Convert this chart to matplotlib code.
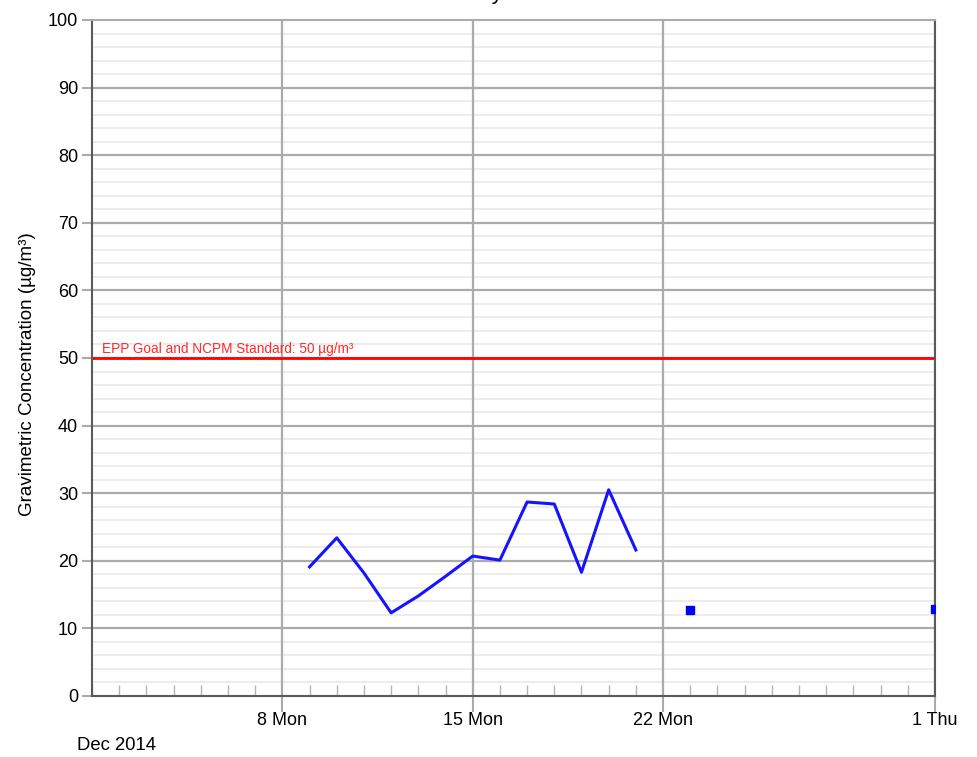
import datetime as dt
import numpy as np
import matplotlib
matplotlib.use("Agg")
import matplotlib.pyplot as plt
import matplotlib.dates as mdates
from matplotlib.ticker import MultipleLocator, FixedLocator

plt.rcParams['font.family'] = ['Liberation Sans', 'DejaVu Sans']

title = "Hornsby Street"
ylabel = "Gravimetric Concentration (µg/m³)"
standard_label = "EPP Goal and NCPM Standard: 50 µg/m³"
standard_value = 50

dates = ["2014-12-09", "2014-12-10", "2014-12-11", "2014-12-12", "2014-12-13",
         "2014-12-14", "2014-12-15", "2014-12-16", "2014-12-17", "2014-12-18",
         "2014-12-19", "2014-12-20", "2014-12-21", "2014-12-22", "2014-12-23",
         "2014-12-24", "2015-01-01"]
values = [19.1, 23.4, 18.2, 12.3, 14.8, 17.7, 20.7, 20.1, 28.7, 28.4,
          18.3, 30.5, 21.6, np.nan, 12.7, np.nan, 12.9]

xtick_dates = ["2014-12-08", "2014-12-15", "2014-12-22", "2015-01-01"]
xtick_labels = ["8 Mon", "15 Mon", "22 Mon", "1 Thu"]

x = [dt.datetime.strptime(d, "%Y-%m-%d") for d in dates]
y = np.array(values, dtype=float)

fig = plt.figure(figsize=(9.77, 7.57), dpi=100)
ax = fig.add_axes([92/977, 1-696/757, (935-92)/977, (696-20)/757])

xmin = dt.datetime(2014, 12, 1)
xmax = dt.datetime(2015, 1, 1)
ax.set_xlim(xmin, xmax)
ax.set_ylim(0, 100)

major_col = '#ababab'
minor_col = '#ebebeb'

ax.yaxis.set_major_locator(MultipleLocator(10))
ax.yaxis.set_minor_locator(MultipleLocator(2))
ax.grid(True, which='minor', axis='y', color=minor_col, lw=1.3)

xt = [mdates.date2num(dt.datetime.strptime(d, "%Y-%m-%d")) for d in xtick_dates]
ax.xaxis.set_major_locator(FixedLocator(xt))
ax.set_xticklabels(xtick_labels)
days = [mdates.date2num(xmin + dt.timedelta(days=i)) for i in range(32)]
ax.xaxis.set_minor_locator(FixedLocator(days))

# major grid drawn above the minor grid
for v in ax.get_yticks():
    if 0 < v < 100:
        ax.axhline(v, color=major_col, lw=1.6, zorder=1.5)
for v in xt:
    ax.axvline(v, color=major_col, lw=1.6, zorder=1.6)

ax.tick_params(axis='x', which='major', direction='out', length=11.5, width=1.5,
               color=major_col, labelsize=13, pad=0)
ax.tick_params(axis='x', which='minor', direction='in', length=8, width=1.0,
               color='#b5b5b5')
ax.tick_params(axis='y', which='major', direction='out', length=7, width=1.5,
               color=major_col, labelsize=13, pad=3)
ax.tick_params(axis='y', which='minor', length=0)

for s in ax.spines.values():
    s.set_color('#5a5a5a')
    s.set_linewidth(1.5)
    s.set_zorder(3)
ax.spines['top'].set_color(major_col)

# standard line
ax.axhline(standard_value, color='#ff0000', lw=2, zorder=3)
ax.text(mdates.date2num(xmin) + 0.35, standard_value + 0.25, standard_label,
        color='#ff2a2a', fontsize=9.8, ha='left', va='bottom', zorder=4)

# data line
ax.plot(x, y, color='#1414ff', lw=2.2, zorder=5)
for i in range(len(y)):
    if np.isnan(y[i]):
        continue
    prev_nan = i == 0 or np.isnan(y[i-1])
    next_nan = i == len(y)-1 or np.isnan(y[i+1])
    if prev_nan and next_nan:
        ax.plot([x[i]], [y[i]], marker='s', ms=6, color='#0000ff', zorder=6,
                linestyle='none')

ax.set_ylabel(ylabel, fontsize=13.5)
ax.yaxis.set_label_coords(-0.066, 0.476)
fig.text(77/977, 1-745/757, "Dec 2014", fontsize=13.3, ha='left', va='center')
fig.text(494/977, 1.0 + 1/757, title, fontsize=16, ha='center', va='baseline')

fig.savefig("out.png", dpi=100)
